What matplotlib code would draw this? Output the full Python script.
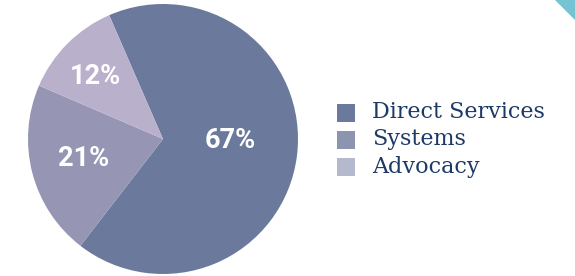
import matplotlib
matplotlib.use("Agg")
import matplotlib.pyplot as plt
from matplotlib.patches import Polygon, Rectangle
import numpy as np

categories = ["Direct Services", "Systems", "Advocacy"]
values = [67, 21, 12]
labels = ["67%", "21%", "12%"]
pie_colors = ["#6b7a9c", "#9695b4", "#b9b0cc"]
legend_colors = ["#6b7a9c", "#8c94b0", "#b4b9ce"]

W, H, DPI = 575, 276, 100
fig = plt.figure(figsize=(W / DPI, H / DPI), dpi=DPI)

cx, cy, r = 163, 139, 135
ax = fig.add_axes([(cx - r) / W, (H - cy - r) / H, 2 * r / W, 2 * r / H])
wedges, _ = ax.pie(values, colors=pie_colors, startangle=113.5, counterclock=False,
                   radius=1.0, wedgeprops=dict(linewidth=0))
ax.set_xlim(-1, 1)
ax.set_ylim(-1, 1)
ax.set_aspect("equal")
ax.axis("off")

# label placement (angle in degrees, radius fraction)
label_pos = [(-1.5, 0.50), (-166, 0.61), (137, 0.68)]
for lab, (ang, rr) in zip(labels, label_pos):
    a = np.deg2rad(ang)
    ax.text(rr * np.cos(a), rr * np.sin(a), lab, color="white", fontsize=19.5,
            fontweight="bold", family=["Roboto", "DejaVu Sans"], ha="center", va="center")

# legend drawn manually
rows_y = [112.5, 139.5, 166.5]
for name, col, yy in zip(categories, legend_colors, rows_y):
    fig.patches.append(Rectangle((337 / W, (H - yy - 9) / H), 18 / W, 18 / H,
                                 transform=fig.transFigure, color=col, linewidth=0))
    fig.text(372 / W, (H - yy) / H, name, color="#1d3a66", fontsize=16,
             family=["DejaVu Serif"], ha="left", va="center")

# corner triangle
fig.patches.append(Polygon([(555 / W, 1), (1, 1), (1, (H - 20) / H)], closed=True,
                           transform=fig.transFigure, color="#74c4d4", linewidth=0))

fig.savefig("out.png", dpi=DPI)
